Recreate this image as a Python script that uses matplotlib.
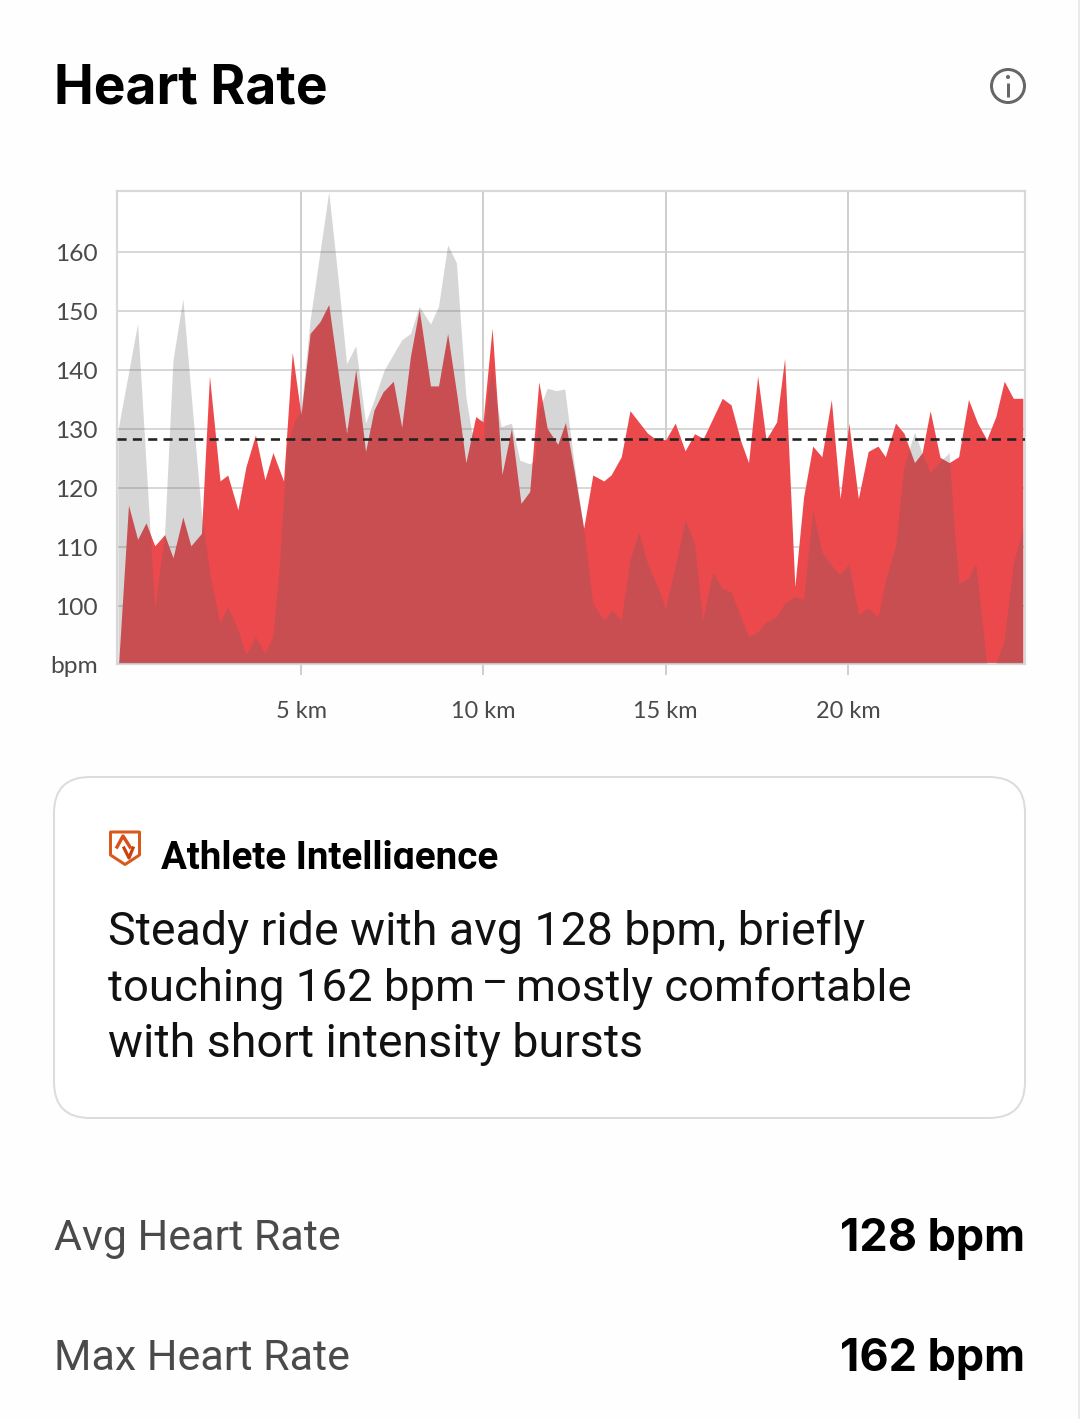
#!/usr/bin/env python3
"""Heart rate card: red HR area, translucent grey comparison area, stats below."""
import matplotlib
matplotlib.use("Agg")
import matplotlib.pyplot as plt
from matplotlib.patches import Circle, FancyBboxPatch, Polygon, Rectangle

# ---------------------------------------------------------------------------
# Data
# ---------------------------------------------------------------------------
hr_km = [0, .27, .52, .75, .99, 1.26, 1.49, 1.76, 1.98, 2.27, 2.49, 2.78, 2.99, 3.27, 3.49,
         3.75, 4.01, 4.23, 4.52, 4.76, 5.0, 5.25, 5.52, 5.76, 6.25, 6.5, 6.77, 7.0, 7.25, 7.53,
         7.76, 8.0, 8.24, 8.55, 8.77, 9.02, 9.28, 9.52, 9.79, 9.99, 10.24, 10.51, 10.77, 11.03,
         11.27, 11.52, 11.75, 12.04, 12.25, 12.5, 12.75, 13.0, 13.3, 13.5, 13.78, 14.02, 14.5,
         14.74, 15.0, 15.26, 15.53, 15.79, 16.03, 16.55, 16.79, 17.06, 17.27, 17.52, 17.75,
         18.04, 18.26, 18.54, 18.78, 19.03, 19.28, 19.54, 19.78, 20.02, 20.28, 20.55, 20.82,
         21.02, 21.3, 21.53, 21.82, 22.03, 22.25, 22.52, 22.77, 23.03, 23.3, 23.55, 23.8,
         24.05, 24.28, 24.53, 24.79]
hr_bpm = [90.3, 117.1, 111.3, 114.1, 110.2, 112.1, 108.2, 115.1, 110.2, 112.3, 139, 121.2, 122.2,
          116.3, 123.6, 129, 121.4, 126, 121.2, 143, 132.4, 146.2, 148.2, 151.1, 129.3, 140.1,
          126.2, 133.2, 136.3, 138.1, 130.3, 142.3, 150.3, 137.3, 137.3, 146.2, 135.5, 124.3,
          132.1, 131.2, 147.1, 122.3, 130.1, 117.4, 119.4, 138, 130.1, 127.4, 131.1, 122.5,
          113.2, 122.2, 121.2, 122.2, 125.3, 133.1, 129.3, 128.2, 128.2, 131, 126.3, 129.2,
          128.4, 135.2, 134.1, 127.9, 124.3, 139, 128.2, 131.2, 142, 103.3, 118.5, 127.1, 125.3,
          135, 118.2, 131, 118.2, 126.2, 127.1, 125.3, 131, 129.3, 124.3, 126, 133.1, 125.2,
          124.3, 125.3, 135, 131, 128.2, 132.1, 138.1, 135.2, 135.2]

grey_km = [-.02, .52, .99, 1.26, 1.49, 1.76, 2.27, 2.51, 2.78, 2.99, 3.28, 3.49, 3.75, 4.01, 4.23,
           4.41, 4.61, 4.84, 5.0, 5.25, 5.76, 6.02, 6.25, 6.5, 6.77, 7.0, 7.28, 7.76, 8.0, 8.24,
           8.55, 8.77, 9.02, 9.26, 9.52, 9.67, 9.81, 9.99, 10.13, 10.24, 10.37, 10.49, 10.77,
           11.0, 11.27, 11.41, 11.52, 11.75, 12.0, 12.23, 12.5, 12.75, 13.0, 13.3, 13.53, 13.78,
           14.02, 14.26, 14.5, 14.78, 14.99, 15.26, 15.53, 15.79, 16.01, 16.29, 16.54, 16.79,
           17.06, 17.27, 17.52, 17.75, 18.04, 18.26, 18.54, 18.78, 19.03, 19.28, 19.54, 19.78,
           20.02, 20.28, 20.55, 20.82, 21.05, 21.3, 21.53, 21.82, 22.03, 22.25, 22.52, 22.77,
           22.91, 23.04, 23.3, 23.5, 23.8, 24.05, 24.28, 24.53, 24.79]
grey_bpm = [129.8, 147.9, 99.6, 112.3, 141.7, 152.1, 115.7, 105, 97.1, 99.9, 95.9, 91.7, 94.8, 92,
            94.8, 107.2, 127, 131.5, 133.2, 148.5, 170.2, 155.3, 141.1, 144.1, 131, 134.9, 140,
            145.1, 146.2, 150.8, 147.8, 150.8, 161.2, 158.2, 135.5, 129.8, 128.1, 128.1, 136.6,
            140.6, 134.4, 130.4, 131, 124.7, 124.1, 124.7, 133.2, 136.9, 136.5, 136.8, 123.6,
            112.9, 100.5, 97.6, 99.3, 97.6, 107.8, 112.6, 107.2, 103.3, 99.6, 106.7, 114.6, 110.6,
            97.6, 105.8, 103, 102.4, 98.2, 94.8, 95.6, 97.3, 98.2, 100.5, 101.6, 101.1, 116.3,
            109.2, 106.9, 105.3, 107.2, 98.6, 99.7, 98.1, 105, 110.1, 123.6, 129.5, 125.9, 122.6,
            124.5, 126, 112.9, 103.8, 104.7, 107.2, 90.3, 90.3, 94.2, 107.2, 113.4]

avg_line = 128.3
y_ticks = [90.17, 100, 110, 120, 130, 140, 150, 160]
y_labels = ["bpm", "100", "110", "120", "130", "140", "150", "160"]
x_ticks = [5, 10, 15, 20]
x_labels = ["5 km", "10 km", "15 km", "20 km"]

body_line1 = "Steady ride with avg 128 bpm, briefly"
body_line2 = ["touching 162 bpm", "–", "mostly comfortable"]
body_line3 = "with short intensity bursts"
stat_names = ["Avg Heart Rate", "Max Heart Rate"]
stat_values = ["128 bpm", "162 bpm"]

W, H = 1080, 1419
GRID = "#d8d8d8"
TXT = "#4a4a4a"
BODY = "#111111"


def px(size):
    return size * 72 / 100


fig = plt.figure(figsize=(W / 100, H / 100), dpi=100, facecolor="#fefefe")

# page overlay in pixel coordinates
bg = fig.add_axes([0, 0, 1, 1], zorder=2)
bg.set_xlim(0, W)
bg.set_ylim(H, 0)
bg.axis("off")
bg.patch.set_alpha(0)

# ── Chart ───────────────────────────────────────────────────────────────────
ax = fig.add_axes([117 / W, 1 - 664 / H, (1025 - 117) / W, (664 - 191) / H], zorder=1)
ax.set_xlim(-0.045, 24.85)
ax.set_ylim(90.17, 170.34)
ax.set_facecolor("white")
for s in ax.spines.values():
    s.set_color(GRID)
    s.set_linewidth(px(2.2))

ax.hlines(y_ticks[1:], -0.045, 24.85, color=GRID, linewidth=px(2), zorder=1)
ax.vlines(x_ticks, 90.17, 170.34, color="#cfcfcf", linewidth=px(2), zorder=1)

ax.fill_between(hr_km, 90.3, hr_bpm, color="#ec494d", linewidth=0, zorder=2)
ax.fill_between(grey_km, 90.3, grey_bpm, color="#5e5e5e", alpha=0.25, linewidth=0, zorder=3)
ax.axhline(avg_line, color="#222222", linewidth=px(2.6), dashes=(3.5, 2.4), zorder=4)

ax.set_xticks(x_ticks, x_labels)
ax.set_yticks(y_ticks, y_labels)
ax.tick_params(axis="y", length=0, pad=px(19), labelsize=px(24.5), labelcolor=TXT)
ax.tick_params(axis="x", length=px(11), width=px(2), color="#cfcfcf", pad=px(26),
               labelsize=px(23.5), labelcolor=TXT)
for lab in ax.get_xticklabels() + ax.get_yticklabels():
    lab.set_family("Lato")

# ── Header ──────────────────────────────────────────────────────────────────
bg.text(54, 103, "Heart Rate", family="Inter", weight="bold", fontsize=px(53.3), color="black",
        va="baseline")
bg.add_patch(Circle((1008, 86), 16.5, fill=False, edgecolor="#666666", linewidth=px(3)))
bg.plot([1008, 1008], [83, 97], color="#666666", linewidth=px(3), solid_capstyle="butt")
bg.add_patch(Circle((1008, 77), 2, color="#666666", linewidth=0))

# ── Athlete Intelligence card ───────────────────────────────────────────────
bg.add_patch(FancyBboxPatch((54, 777), 971, 341, boxstyle="round,pad=0,rounding_size=36",
                            facecolor="white", edgecolor="#dcdcdc", linewidth=px(2)))
bg.add_patch(Polygon([(110.5, 832), (139.5, 832), (139.5, 855), (125, 864.5), (110.5, 855)],
                     closed=True, fill=False, edgecolor="#d9591a", linewidth=px(3),
                     joinstyle="round"))
bg.plot([117, 123, 130], [847, 836, 847], color="#d9501a", linewidth=px(3.4))
bg.plot([124, 129, 133], [848, 858, 848], color="#c8430f", linewidth=px(3.2))

head = bg.text(161, 869, "Athlete Intelligence", family="Roboto", weight="bold", fontsize=px(38.5),
               color="black", va="baseline")
head.set_clip_path(Rectangle((100, 820), 500, 49, transform=bg.transData))
head.set_clip_on(True)

bg.text(108, 945, body_line1, family="Roboto", fontsize=px(46.5), color=BODY, va="baseline")
# second line sits in three pieces: the reference dash is much shorter than Roboto's
bg.text(108, 1001, body_line2[0], family="Roboto", fontsize=px(45.5), color=BODY, va="baseline")
bg.text(495, 996, body_line2[1], family="Roboto", fontsize=px(40), color=BODY, va="baseline",
        ha="center")
bg.text(912, 1001, body_line2[2], family="Roboto", fontsize=px(45.5), color=BODY, va="baseline",
        ha="right")
bg.text(108, 1057, body_line3, family="Roboto", fontsize=px(46.5), color=BODY, va="baseline")

# ── Stats ───────────────────────────────────────────────────────────────────
for y, name, val in zip([1250, 1370], stat_names, stat_values):
    bg.text(54, y, name, family="Roboto", fontsize=px(43), color=TXT, va="baseline")
    bg.text(1025, y + 1, val, family="Inter", weight="bold", fontsize=px(45), color="black",
            va="baseline", ha="right")

# scroll edge at the far right of the screenshot
bg.plot([1079, 1079], [0, H], color="#e4e4e4", linewidth=px(1.5))

fig.savefig("out.png", dpi=100, facecolor=fig.get_facecolor())
plt.close(fig)
